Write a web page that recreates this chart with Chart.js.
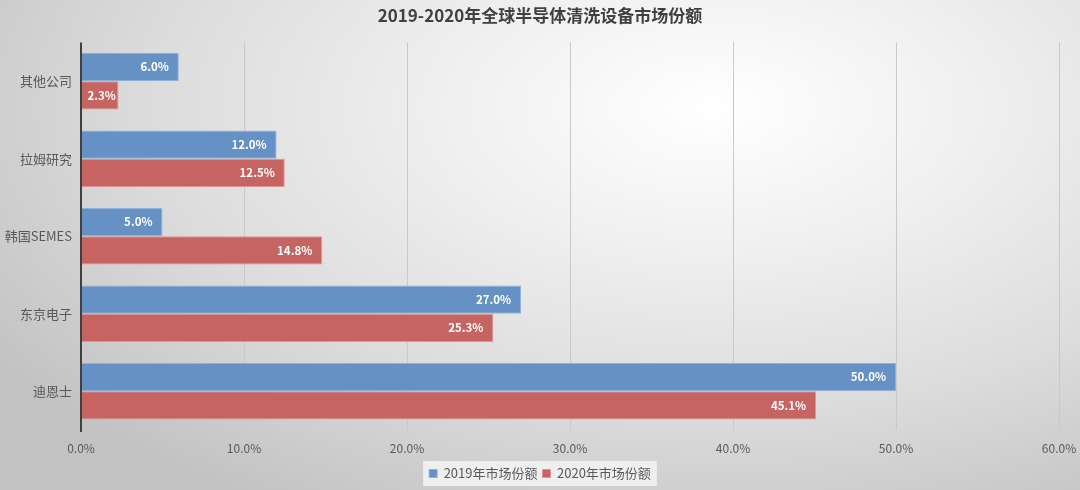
<!DOCTYPE html>
<html><head><meta charset="utf-8">
<script src="https://cdn.jsdelivr.net/npm/chart.js@4"></script>
<style>
html,body{margin:0;padding:0;width:1080px;height:490px;overflow:hidden;}
body{background:radial-gradient(ellipse 80% 95% at 66% 22%, #ffffff 0%, #f0f0f0 30%, #dcdcdc 65%, #c2c2c2 100%);}
#wrap{position:relative;width:1080px;height:490px;}
</style></head>
<body><div id="wrap"><canvas id="c" width="1080" height="490"></canvas></div>
<script>
const categories = ['其他公司', '拉姆研究', '韩国SEMES', '东京电子', '迪恩士'];
const share2019 = [6.0, 12.0, 5.0, 27.0, 50.0];
const share2020 = [2.3, 12.5, 14.8, 25.3, 45.1];
const seriesNames = ['2019年市场份额', '2020年市场份额'];
const titleText = '2019-2020年全球半导体清洗设备市场份额';

const FONT = "'Noto Sans CJK SC','Noto Sans',sans-serif";

const barLabels = {
  id: 'barLabels',
  afterDatasetsDraw(chart) {
    const ctx = chart.ctx;
    ctx.save();
    ctx.font = "bold 11.5px " + FONT;
    ctx.fillStyle = '#ffffff';
    ctx.textAlign = 'right';
    ctx.textBaseline = 'middle';
    chart.data.datasets.forEach((ds, i) => {
      chart.getDatasetMeta(i).data.forEach((bar, j) => {
        const t = ds.data[j].toFixed(1) + '%';
        const w = ctx.measureText(t).width;
        const x = Math.max(bar.x - 10, bar.base + w + 6);
        ctx.fillText(t, x, bar.y);
      });
    });
    ctx.restore();
  }
};

const legendBg = {
  id: 'legendBg',
  beforeDraw(chart) {
    const lg = chart.legend;
    if (!lg || !lg.legendHitBoxes || !lg.legendHitBoxes.length) return;
    const hb = lg.legendHitBoxes;
    const x0 = Math.min(...hb.map(h => h.left)) - 6;
    const x1 = Math.max(...hb.map(h => h.left + h.width)) + 6;
    const y0 = Math.min(...hb.map(h => h.top)) - 6;
    const y1 = Math.max(...hb.map(h => h.top + h.height)) + 6;
    const ctx = chart.ctx;
    ctx.save();
    ctx.fillStyle = 'rgba(245,245,245,0.85)';
    ctx.fillRect(x0, y0, x1 - x0, y1 - y0);
    ctx.restore();
  }
};

const yAxisLine = {
  id: 'yAxisLine',
  afterDatasetsDraw(chart) {
    const a = chart.chartArea, x = chart.scales.x.getPixelForValue(0);
    const ctx = chart.ctx;
    ctx.save();
    ctx.strokeStyle = '#404040';
    ctx.lineWidth = 2;
    ctx.beginPath();
    ctx.moveTo(x, a.top);
    ctx.lineTo(x, a.bottom + 2);
    ctx.stroke();
    ctx.restore();
  }
};

new Chart(document.getElementById('c'), {
  type: 'bar',
  data: {
    labels: categories,
    datasets: [
      { label: seriesNames[0], data: share2019, backgroundColor: '#6591c5', borderColor: '#8fb0d8', borderWidth: 1, borderSkipped: 'start' },
      { label: seriesNames[1], data: share2020, backgroundColor: '#c66461', borderColor: '#dc9593', borderWidth: 1, borderSkipped: 'start' }
    ]
  },
  plugins: [legendBg, barLabels, yAxisLine],
  options: {
    indexAxis: 'y',
    responsive: false,
    animation: false,
    devicePixelRatio: 1,
    layout: { padding: 0 },
    datasets: { bar: { categoryPercentage: 0.73, barPercentage: 1.0 } },
    scales: {
      x: {
        min: 0, max: 60,
        ticks: { stepSize: 10, color: '#595959', font: { size: 12, family: FONT }, padding: 11,
          callback: v => v.toFixed(1) + '%' },
        grid: { color: '#c9c9c9', lineWidth: 1, drawTicks: false },
        border: { display: false },
        afterFit(s) { s.height = 32; s.paddingLeft = 0; s.paddingRight = 21; }
      },
      y: {
        ticks: { color: '#595959', font: { size: 13, family: FONT }, padding: 9 },
        grid: { display: false, drawTicks: false },
        border: { display: false },
        afterFit(s) { s.width = 81; }
      }
    },
    plugins: {
      title: { display: true, text: titleText, color: '#404040',
        font: { size: 17, weight: 'bold', family: FONT }, padding: { top: 5, bottom: 17 } },
      legend: { position: 'bottom',
        labels: { color: '#595959', font: { size: 13, family: FONT }, boxWidth: 8, boxHeight: 8, padding: 5 } },
      tooltip: { enabled: false }
    }
  }
});
</script></body></html>
